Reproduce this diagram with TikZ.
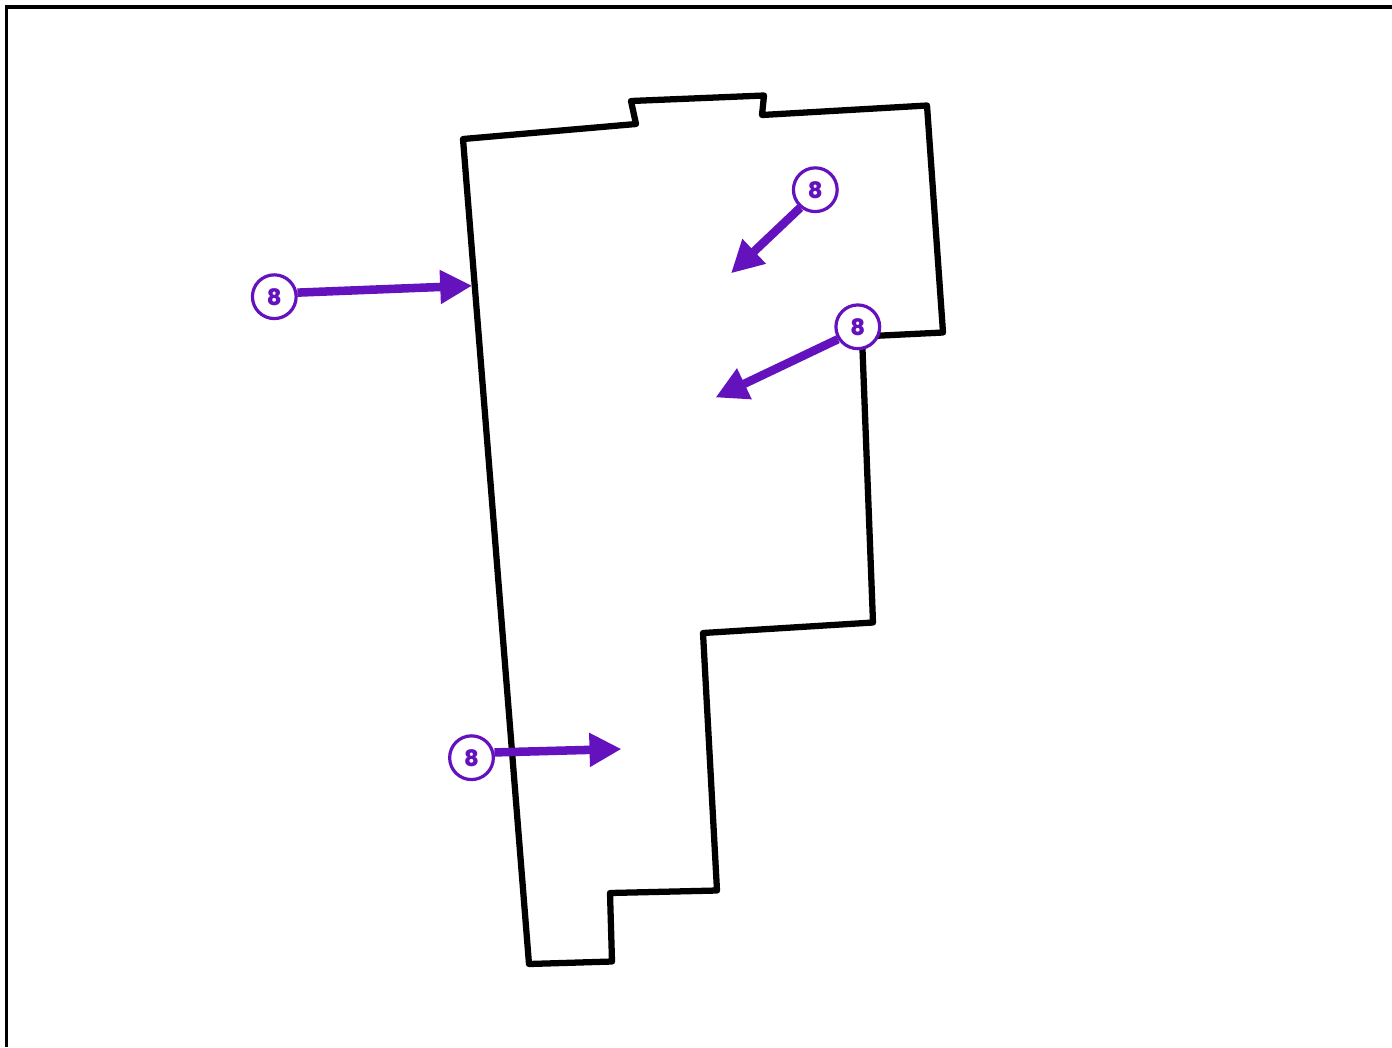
\documentclass[tikz,border=0pt]{standalone}
\usepackage{fontspec}
\setmainfont{Poppins}
\newfontfamily\tagfont{Poppins ExtraBold}
\usetikzlibrary{arrows.meta}
\definecolor{tagviolet}{RGB}{100,18,190}
\tikzset{
  x=0.75pt,y=-0.75pt,
  outline/.style={draw=black,line width=4.7pt,line join=round,line cap=round},
  framing/.style={draw=black,line width=2.4pt},
  tag/.style={circle,draw=tagviolet,fill=white,line width=2.4pt,minimum size=32.8pt,inner sep=0pt,text=tagviolet,font=\tagfont\fontsize{17}{17}\selectfont},
  pointer/.style={draw=tagviolet,line width=6.4pt,-{Triangle[length=24pt,width=24pt,fill=tagviolet]}}
}
\begin{document}
\begin{tikzpicture}
\useasboundingbox (0,0) rectangle (1392,1047);
\fill[white] (0,0) rectangle (1392,1047);
\draw[framing] (1392,7) -- (6.5,7) -- (6.5,1047);
\draw[outline] (463,139) -- (636,124) -- (631,101) -- (764,95.5) -- (762,115) -- (927,105.5) -- (943,332.5) -- (862,336.5) -- (873,622.5) -- (703,633) -- (717,890.5) -- (610,893) -- (612,961.5) -- (529,964) -- cycle;
\coordinate (t1) at (472.2,285.7);
\coordinate (t2) at (731,273.3);
\coordinate (t3) at (715.5,397.5);
\coordinate (t4) at (621.5,749);
\node[tag] (n1) at (274.3,296.7) {8};
\node[tag] (n2) at (815.3,189.7) {8};
\node[tag] (n3) at (857.8,326.8) {8};
\node[tag] (n4) at (471.5,757.7) {8};
\draw[pointer] (n1.10) -- (t1);
\draw[pointer] (n2.230) -- (t2);
\draw[pointer] (n3.212) -- (t3);
\draw[pointer] (n4.13) -- (t4);
\end{tikzpicture}
\end{document}
